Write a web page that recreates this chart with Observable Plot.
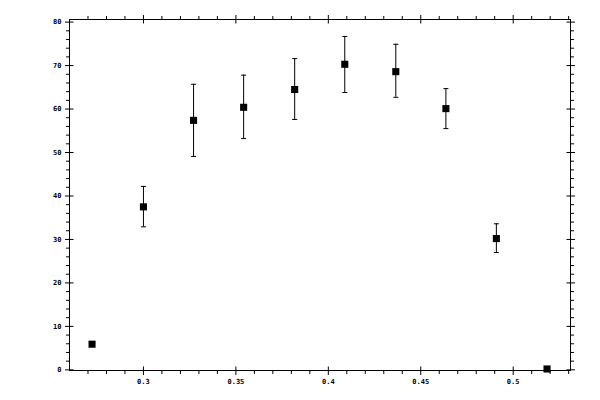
<!DOCTYPE html>
<html>
<head>
<meta charset="utf-8">
<script src="https://cdn.jsdelivr.net/npm/d3@7"></script>
<script src="https://cdn.jsdelivr.net/npm/@observablehq/plot@0.6"></script>
<style>
  html, body { margin: 0; padding: 0; background: #fff; }
  #chart svg { display: block; }
</style>
</head>
<body>
<div id="chart"></div>
<script>
// ---- data ----
const xs    = [0.2722, 0.3, 0.3271, 0.3542, 0.3818, 0.4089, 0.4365, 0.4636, 0.4909, 0.5183];
const ys    = [5.9, 37.5, 57.4, 60.4, 64.5, 70.3, 68.6, 60.1, 30.2, 0.2];
const yLow  = [5.5, 32.9, 49.1, 53.2, 57.6, 63.8, 62.7, 55.5, 27.0, null];
const yHigh = [6.3, 42.2, 65.7, 67.8, 71.6, 76.7, 74.9, 64.7, 33.6, null];

// ---- axes ----
const xDomain = [0.26, 0.531];
const yDomain = [-0.15, 80.6];
const xMajorTicks  = [0.3, 0.35, 0.4, 0.45, 0.5];
const xTickLabels  = ["0.3", "0.35", "0.4", "0.45", "0.5"];
const xMinorTicks  = [0.27, 0.28, 0.29, 0.31, 0.32, 0.33, 0.34, 0.36, 0.37, 0.38, 0.39,
                      0.41, 0.42, 0.43, 0.44, 0.46, 0.47, 0.48, 0.49, 0.51, 0.52, 0.53];
const yMajorTicks  = [0, 10, 20, 30, 40, 50, 60, 70, 80];
const yTickLabels  = ["0", "10", "20", "30", "40", "50", "60", "70", "80"];
const yMinorTicks  = [2,4,6,8,12,14,16,18,22,24,26,28,32,34,36,38,42,44,46,48,
                      52,54,56,58,62,64,66,68,72,74,76,78];

const points = xs.map((x, i) => ({x, y: ys[i], lo: yLow[i], hi: yHigh[i]}));
const bars = points.filter(d => d.lo != null);

// line symbol factory (screen-space segment relative to the anchor point)
const seg = (x1, y1, x2, y2) => ({draw(ctx) { ctx.moveTo(x1, y1); ctx.lineTo(x2, y2); }});
const MIN_OUT = 3.5, MAJ_OUT = 4.5, MAJ_IN = 4;
const cap = seg(-2.5, 0, 2.5, 0);

const tickStyle = {r: 1, fill: "none", stroke: "black", strokeWidth: 1};
const labelStyle = {fontSize: 7, fontFamily: "DejaVu Sans Mono", fontWeight: "bold", fill: "black", lineAnchor: "middle"};

const chart = Plot.plot({
  width: 600,
  height: 400,
  marginLeft: 69,
  marginRight: 30,
  marginTop: 19,
  marginBottom: 30,
  style: {background: "#fff", color: "black"},
  x: {domain: xDomain, axis: null},
  y: {domain: yDomain, axis: null},
  marks: [
    Plot.frame({stroke: "black", strokeWidth: 1}),
    // bottom ticks
    Plot.dot(xMajorTicks, {x: d => d, frameAnchor: "bottom", symbol: seg(0, -MAJ_IN, 0, MAJ_OUT), ...tickStyle}),
    Plot.dot(xMinorTicks, {x: d => d, frameAnchor: "bottom", symbol: seg(0, 0, 0, MIN_OUT), ...tickStyle}),
    // top ticks
    Plot.dot(xMajorTicks, {x: d => d, frameAnchor: "top", symbol: seg(0, MAJ_IN, 0, -MAJ_OUT), ...tickStyle}),
    Plot.dot(xMinorTicks, {x: d => d, frameAnchor: "top", symbol: seg(0, 0, 0, -MIN_OUT), ...tickStyle}),
    // left ticks
    Plot.dot(yMajorTicks, {y: d => d, frameAnchor: "left", symbol: seg(-MAJ_OUT, 0, MAJ_IN, 0), ...tickStyle}),
    Plot.dot(yMinorTicks, {y: d => d, frameAnchor: "left", symbol: seg(-MIN_OUT, 0, 0, 0), ...tickStyle}),
    // right ticks
    Plot.dot(yMajorTicks, {y: d => d, frameAnchor: "right", symbol: seg(-MAJ_IN, 0, MAJ_OUT, 0), ...tickStyle}),
    Plot.dot(yMinorTicks, {y: d => d, frameAnchor: "right", symbol: seg(0, 0, MIN_OUT, 0), ...tickStyle}),
    // tick labels
    Plot.text(xMajorTicks, {x: d => d, frameAnchor: "bottom", dy: 11, text: (d, i) => xTickLabels[i], ...labelStyle}),
    Plot.text(yMajorTicks, {y: d => d, frameAnchor: "left", dx: -8, text: (d, i) => yTickLabels[i],
      textAnchor: "end", ...labelStyle}),
    // error bars
    Plot.ruleX(bars, {x: "x", y1: "lo", y2: "hi", stroke: "black", strokeWidth: 1}),
    Plot.dot(bars, {x: "x", y: "lo", symbol: cap, ...tickStyle}),
    Plot.dot(bars, {x: "x", y: "hi", symbol: cap, ...tickStyle}),
    // markers
    Plot.dot(points, {x: "x", y: "y", symbol: "square", r: 4, fill: "black", stroke: "none"})
  ]
});
document.getElementById("chart").appendChild(chart);
</script>
</body>
</html>
